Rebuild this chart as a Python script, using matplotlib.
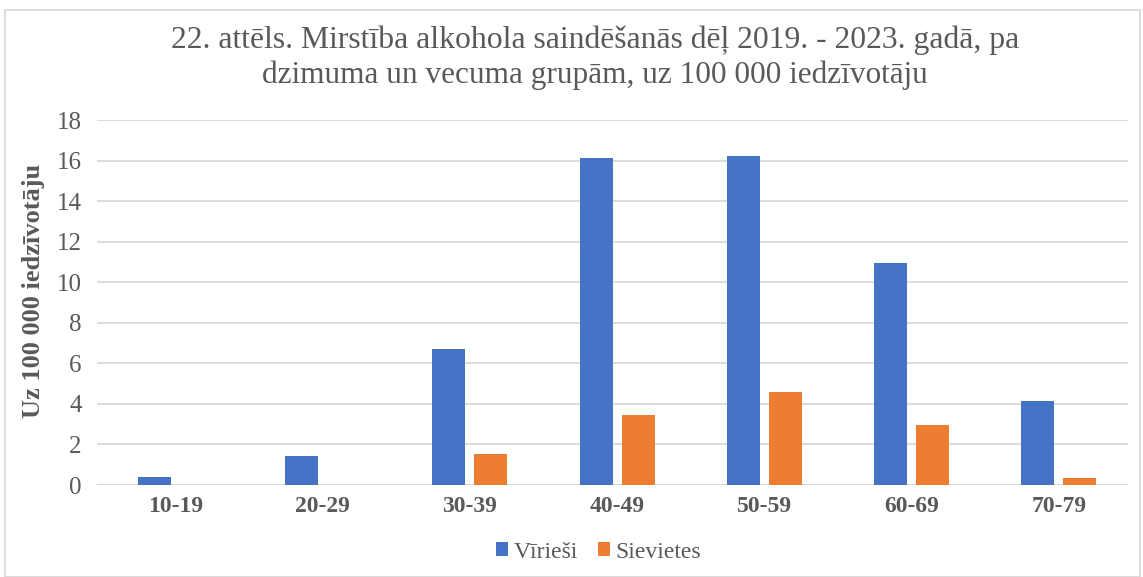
import matplotlib
matplotlib.use("Agg")
import matplotlib.pyplot as plt
import numpy as np
from matplotlib.patches import Rectangle

categories = ["10-19", "20-29", "30-39", "40-49", "50-59", "60-69", "70-79"]
viriesi = [0.40, 1.44, 6.69, 16.12, 16.22, 10.97, 4.16]
sievietes = [0.0, 0.0, 1.53, 3.44, 4.59, 2.94, 0.35]
series_names = ["Vīrieši", "Sievietes"]
title = "22. attēls. Mirstība alkohola saindēšanās dēļ 2019. - 2023. gadā, pa\ndzimuma un vecuma grupām, uz 100 000 iedzīvotāju"
ylabel = "Uz 100 000 iedzīvotāju"

plt.rcParams['font.family'] = ['Liberation Serif', 'DejaVu Serif']
txt = '#595959'

W, H = 1143, 577
fig = plt.figure(figsize=(W / 100, H / 100), dpi=100)
ax_left, ax_right, ax_top, ax_bot = 97, 1128, 120, 485
ax = fig.add_axes([ax_left / W, 1 - ax_bot / H, (ax_right - ax_left) / W, (ax_bot - ax_top) / H])

x = np.arange(len(categories))
w = 0.224
gap = 0.061
ax.bar(x - (w + gap) / 2, viriesi, w, color='#4472C4', label=series_names[0], zorder=3)
ax.bar(x + (w + gap) / 2, sievietes, w, color='#ED7D31', label=series_names[1], zorder=3)

unit = (ax_right - ax_left) / len(categories)
x0 = -(175.2 - ax_left) / unit
ax.set_xlim(x0, x0 + len(categories))
ax.set_ylim(0, 18)
ax.set_yticks(np.arange(0, 19, 2))
ax.yaxis.grid(True, color='#D9D9D9', linewidth=1.3, zorder=0)
for s in ax.spines.values():
    s.set_visible(False)
ax.axhline(0, color='#D9D9D9', linewidth=1.3, zorder=1)
ax.tick_params(axis='both', length=0, colors=txt)
ax.tick_params(axis='y', pad=11, labelsize=18)
ax.tick_params(axis='x', pad=8, labelsize=17)
ax.set_xticks(x)
ax.set_xticklabels(categories, fontweight='bold', color=txt)
ax.set_ylabel(ylabel, fontsize=19, fontweight='bold', color=txt, va='center')
ax.yaxis.set_label_coords((34 - ax_left) / (ax_right - ax_left), (ax_bot - 291) / (ax_bot - ax_top))

cx = 595 / W
fig.text(cx, 1 - 40 / H, title.split("\n")[0], ha='center', va='center', fontsize=22.8, color=txt)
fig.text(cx, 1 - 75 / H, title.split("\n")[1], ha='center', va='center', fontsize=22.5, color=txt)

leg = fig.legend(loc='center', bbox_to_anchor=(598.5 / W, 1 - 552 / H), ncol=2, frameon=False,
                 fontsize=17, handlelength=0.5, handleheight=0.5, handletextpad=0.25,
                 columnspacing=0.85)
for t in leg.get_texts():
    t.set_color(txt)

fig.patches.append(Rectangle((5 / W, 0), 1135 / W, 1 - 10 / H, transform=fig.transFigure,
                             fill=False, edgecolor='#D9D9D9', linewidth=1.3))

fig.savefig("out.png", dpi=100)
